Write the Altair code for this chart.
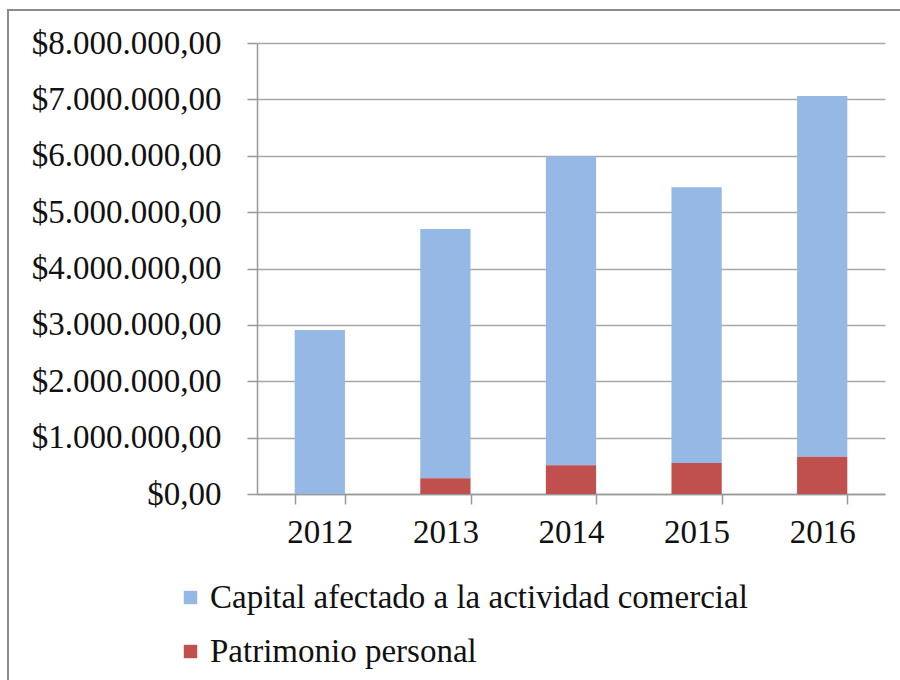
import altair as alt
import pandas as pd

years = ["2012", "2013", "2014", "2015", "2016"]
capital = [2910000, 4420000, 5480000, 4890000, 6400000]
patrimonio = [0, 280000, 510000, 550000, 660000]
series = ["Capital afectado a la actividad comercial", "Patrimonio personal"]
colors = ["#95B8E4", "#C0504D"]

rows = []
for i, y in enumerate(years):
    rows.append({"year": y, "serie": series[0], "valor": capital[i], "ord": 2})
    rows.append({"year": y, "serie": series[1], "valor": patrimonio[i], "ord": 1})
df = pd.DataFrame(rows)

FONT = "Liberation Serif"
FS = 33

frame = alt.Chart(pd.DataFrame({"a": [0]})).mark_rect(
    fill=None, stroke="#8C8C8C", strokeWidth=2
).encode(
    x=alt.value(-249), x2=alt.value(660), y=alt.value(-33), y2=alt.value(660)
)

bars = alt.Chart(df).mark_bar(strokeWidth=0).encode(
    x=alt.X("year:N", title=None,
            scale=alt.Scale(paddingInner=0.6, paddingOuter=0.3),
            axis=alt.Axis(labelAngle=0, labelFont=FONT, labelFontSize=FS,
                          labelColor="#111", labelPadding=12,
                          tickSize=10, tickColor="#999", domainColor="#999",
                          tickBand="extent", domainWidth=1.5, tickWidth=1.5)),
    y=alt.Y("valor:Q", title=None, stack="zero",
            scale=alt.Scale(domain=[0, 8000000], nice=False),
            axis=alt.Axis(values=[0, 1e6, 2e6, 3e6, 4e6, 5e6, 6e6, 7e6, 8e6],
                          labelExpr='datum.value == 0 ? "$0,00" : "$" + format(datum.value/1000000, "d") + ".000.000,00"',
                          labelFont=FONT, labelFontSize=FS, labelColor="#111",
                          labelLimit=400,
                          labelPadding=26, tickSize=10, tickColor="#999",
                          domainColor="#999", domainWidth=1.5, tickWidth=1.5,
                          gridColor="#A8A8A8", gridWidth=1.5)),
    color=alt.Color("serie:N", scale=alt.Scale(domain=series, range=colors),
                    legend=alt.Legend(title=None, orient="none", legendX=-83, legendY=538,
                                      direction="vertical", labelFont=FONT,
                                      labelFontSize=FS, labelColor="#111",
                                      symbolType="square", symbolSize=180,
                                      symbolStrokeWidth=0, rowPadding=20,
                                      labelOffset=3, labelLimit=700)),
    order=alt.Order("ord:Q", sort="ascending"),
)

chart = alt.layer(frame, bars).properties(
    width=628, height=451,
    padding={"left": 257, "top": 43, "right": 15, "bottom": 186},
    autosize=alt.AutoSizeParams(type="none"),
    background="white",
).configure_view(stroke=None)

chart.save("out.html", embed_options={"renderer": "svg", "actions": False})
